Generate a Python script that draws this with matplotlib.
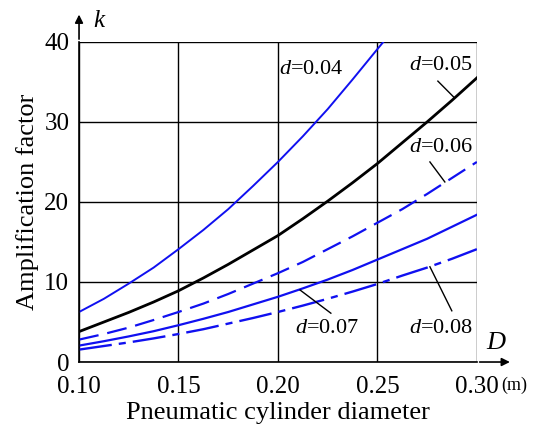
import numpy as np
import matplotlib as mpl
mpl.use("Agg")
import matplotlib.pyplot as plt

plt.rcParams['font.family'] = 'Liberation Serif'
plt.rcParams['mathtext.fontset'] = 'custom'
plt.rcParams['mathtext.rm'] = 'Liberation Serif'
plt.rcParams['mathtext.it'] = 'Liberation Serif:italic'

# curves: D (m) vs amplification factor k
D_04 = [0.1000, 0.1125, 0.1250, 0.1375, 0.1500, 0.1625, 0.1750, 0.1875,
        0.2000, 0.2125, 0.2250, 0.2375, 0.2500, 0.2530]
k_04 = [6.25, 7.9, 9.8, 11.8, 14.1, 16.5, 19.1, 22.0, 25.0, 28.2, 31.6,
        35.3, 39.1, 40.0]
D_all = [0.1000, 0.1125, 0.1250, 0.1375, 0.1500, 0.1625, 0.1750, 0.1875,
         0.2000, 0.2125, 0.2250, 0.2375, 0.2500, 0.2625, 0.2750, 0.2875, 0.3000]
k_05 = [3.8, 5.0, 6.2, 7.5, 8.9, 10.5, 12.2, 14.0, 15.8, 17.9, 20.1, 22.4,
        24.8, 27.4, 30.0, 32.7, 35.5]
k_06 = [2.8, 3.5, 4.3, 5.25, 6.25, 7.3, 8.5, 9.8, 11.1, 12.5, 14.1, 15.7,
        17.4, 19.1, 21.0, 23.0, 25.0]
k_07 = [2.05, 2.6, 3.2, 3.85, 4.6, 5.4, 6.25, 7.2, 8.15, 9.2, 10.3, 11.5,
        12.8, 14.1, 15.4, 16.9, 18.4]
k_08 = [1.55, 2.0, 2.45, 2.95, 3.5, 4.1, 4.8, 5.5, 6.25, 7.05, 7.9, 8.8,
        9.75, 10.8, 11.8, 12.9, 14.1]

xticks = [0.10, 0.15, 0.20, 0.25, 0.30]
xtick_labels = ['0.10', '0.15', '0.20', '0.25', '0.30']
yticks = [0, 10, 20, 30, 40]

blue = '#1010f0'

fig = plt.figure(figsize=(5.34, 4.32), dpi=100)
ax = fig.add_axes([0.148, 0.162, 0.745, 0.741])

ax.plot(D_04, k_04, color=blue, lw=1.4)
ax.plot(D_all, k_05, color='black', lw=2.0)
ax.plot(D_all, k_06, color=blue, lw=1.6, dashes=(9, 4))
ax.plot(D_all, k_07, color=blue, lw=1.6)
ax.plot(D_all, k_08, color=blue, lw=1.7, dashes=(14, 3, 3, 3))

ax.set_xlim(0.10, 0.30)
ax.set_ylim(0, 40)
ax.set_xticks(xticks)
ax.set_xticklabels(xtick_labels)
ax.set_yticks(yticks)
ax.grid(True, color='black', lw=1.0)
ax.set_axisbelow(True)
ax.tick_params(length=0, labelsize=18)
ax.tick_params(axis='x', pad=10)
ax.tick_params(axis='y', pad=7)
for s in ['top', 'right']:
    ax.spines[s].set_visible(False)
ax.spines['left'].set_linewidth(1.2)
ax.spines['bottom'].set_linewidth(1.2)

# axis arrows
ax.annotate('', xy=(0, 1.094), xytext=(0, 1.0), xycoords='axes fraction',
            arrowprops=dict(arrowstyle='-|>', color='black', lw=1.2, mutation_scale=12))
ax.annotate('', xy=(1.09, 0), xytext=(1.0, 0), xycoords='axes fraction',
            arrowprops=dict(arrowstyle='-|>', color='black', lw=1.2, mutation_scale=12))
ax.text(0.035, 1.065, '$k$', transform=ax.transAxes, fontsize=18, va='center', ha='left')
ax.text(1.05, 0.06, '$D$', transform=ax.transAxes, fontsize=19, va='center', ha='center')
ax.text(1.062, -0.073, '(m)', transform=ax.transAxes, fontsize=13, va='center', ha='left')

ax.set_ylabel('Amplification factor', fontsize=19, labelpad=4)
ax.set_xlabel('Pneumatic cylinder diameter', fontsize=19, labelpad=3)

# curve labels with leader lines
lab_fs = 16
ax.text(0.2166, 36.5, '$d$=0.04', fontsize=lab_fs, ha='center', va='center')
ax.text(0.282, 37.0, '$d$=0.05', fontsize=lab_fs, ha='center', va='center')
ax.plot([0.2804, 0.2884], [35.1, 33.1], color='black', lw=1.0)
ax.text(0.282, 26.8, '$d$=0.06', fontsize=lab_fs, ha='center', va='center')
ax.plot([0.2764, 0.2839], [25.0, 22.5], color='black', lw=1.0)
ax.text(0.2246, 4.2, '$d$=0.07', fontsize=lab_fs, ha='center', va='center')
ax.plot([0.2266, 0.2111], [6.1, 9.0], color='black', lw=1.0)
ax.text(0.282, 4.2, '$d$=0.08', fontsize=lab_fs, ha='center', va='center')
ax.plot([0.2874, 0.2764], [6.4, 11.9], color='black', lw=1.0)

fig.savefig('out.png', dpi=100)
